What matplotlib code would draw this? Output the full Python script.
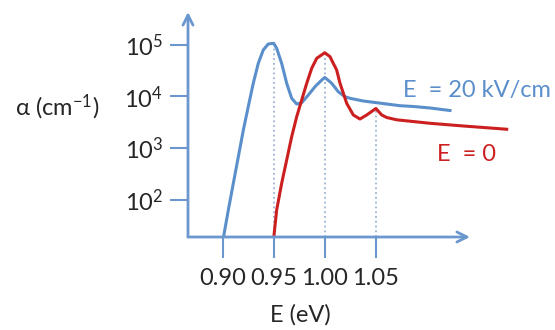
import numpy as np
import matplotlib
matplotlib.use('Agg')
import matplotlib.pyplot as plt

plt.rcParams['font.family'] = ['Lato', 'DejaVu Sans']
plt.rcParams['mathtext.fontset'] = 'custom'
plt.rcParams['mathtext.rm'] = 'Lato'

# E = 20 kV/cm
e_field = [0.9007, 0.9056, 0.9105, 0.9154, 0.9203, 0.9251, 0.9300, 0.9349, 0.9398,
           0.9447, 0.950, 0.9529, 0.9578, 0.9627, 0.9676, 0.9725, 0.9774, 0.9839,
           0.9904, 0.9970, 1.000, 1.0068, 1.0132, 1.0198, 1.0247, 1.0377, 1.0508,
           1.0736, 1.0866, 1.1029, 1.1225]
a_field = [18, 63, 207, 678, 2220, 6280, 17800, 43300, 78500,
           102600, 105700, 84500, 43300, 17800, 9120, 7080, 7500, 10570,
           15300, 20600, 23100, 17800, 12200, 9790, 9120, 8090, 7500,
           6560, 6340, 5930, 5300]

# E = 0
e_zero = [0.950, 0.9529, 0.9578, 0.9627, 0.9676, 0.9725, 0.9774, 0.9823, 0.9872,
          0.9921, 1.000, 1.0051, 1.0083, 1.0116, 1.0149, 1.0214, 1.0279, 1.0344,
          1.0410, 1.050, 1.0557, 1.0606, 1.0704, 1.1029, 1.1355, 1.1780]
a_zero = [18, 63, 207, 585, 1650, 4020, 8450, 17800, 34800,
          54200, 69500, 58200, 43300, 32200, 17800, 7310, 4340, 3630,
          4340, 5800, 4340, 3880, 3500, 3000, 2660, 2300]

# dotted guide lines: position and height
guide_x = [0.95, 1.00, 1.05]
guide_top = [105700, 69500, 5800]

xticks = [0.90, 0.95, 1.00, 1.05]
xticklabels = ['0.90', '0.95', '1.00', '1.05']
yticks = [1e2, 1e3, 1e4, 1e5]
yticklabels = [r'$\mathregular{10^{%d}}$' % k for k in (2, 3, 4, 5)]

blue = '#5b8fcb'
red = '#cc1f1f'
axcol = '#6b97cf'
guide = '#9bb3d6'
txt = '#262626'

fig = plt.figure(figsize=(5.55, 3.3), dpi=100)
ax = fig.add_axes([188/555, 93/330, 367/555, 237/330])
ax.set_yscale('log')
ax.set_xlim(0.90 - 34.6/1022, 0.90 + 332.4/1022)
ax.set_ylim(10**(3.5 - 114.9/51.7), 10**(3.5 + 122.1/51.7))

ax.vlines(guide_x, ax.get_ylim()[0], guide_top, colors=guide, linestyles=':', lw=1.3)
ax.plot(e_field, a_field, color=blue, lw=2.2, solid_joinstyle='round')
ax.plot(e_zero, a_zero, color=red, lw=2.2, solid_joinstyle='round')

for s in ax.spines.values():
    s.set_visible(False)
ax.annotate('', xy=(282/367, 0), xytext=(0, 0), xycoords='axes fraction',
            arrowprops=dict(arrowstyle='->', color=axcol, lw=2, shrinkA=0, shrinkB=0,
                            mutation_scale=18))
ax.annotate('', xy=(0, 225/237), xytext=(0, 0), xycoords='axes fraction',
            arrowprops=dict(arrowstyle='->', color=axcol, lw=2, shrinkA=0, shrinkB=0,
                            mutation_scale=18))

ax.set_xticks(xticks)
ax.set_xticklabels(xticklabels)
ax.set_yticks(yticks)
ax.set_yticklabels(yticklabels)
ax.minorticks_off()
ax.tick_params(axis='x', direction='out', length=15, width=1.5, color=axcol, pad=7,
               labelsize=17, labelcolor=txt)
ax.tick_params(axis='y', direction='out', length=13, width=1.5, color=axcol, pad=5,
               labelsize=17, labelcolor=txt)

ax.text(1.0765, 13200, 'E  = 20 kV/cm', color=blue, fontsize=17, va='center', ha='left')
ax.text(1.1097, 731, 'E  = 0', color=red, fontsize=17, va='center', ha='left')

fig.text(15/555, 1 - 107/330, r'α (cm$\mathregular{^{-1}}$)', fontsize=17, color=txt,
         va='center', ha='left')
fig.text(300/555, 1 - 315/330, 'E (eV)', fontsize=17, color=txt, va='center', ha='center')

fig.savefig('out.png', dpi=100)
